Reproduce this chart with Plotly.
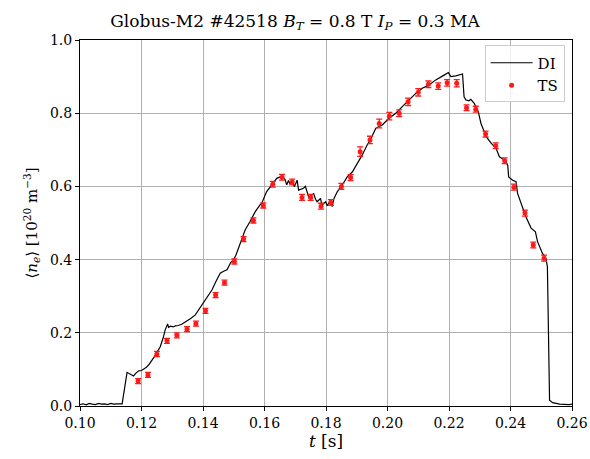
import plotly.graph_objects as go

# Interferometer (DI) line-averaged density trace
di_t = [0.1000, 0.1010, 0.1020, 0.1030, 0.1040, 0.1050, 0.1060, 0.1070, 0.1080, 0.1090,
        0.1100, 0.1110, 0.1120, 0.1130, 0.1137, 0.1153, 0.1160, 0.1167, 0.1174, 0.1182,
        0.1191, 0.1200, 0.1207, 0.1215, 0.1223, 0.1232, 0.1242, 0.1251, 0.1261, 0.1270,
        0.1277, 0.1285, 0.1288, 0.1295, 0.1303, 0.1310, 0.1320, 0.1332, 0.1340, 0.1348,
        0.1360, 0.1375, 0.1388, 0.1402, 0.1415, 0.1429, 0.1442, 0.1456, 0.1467, 0.1478,
        0.1490, 0.1499, 0.1507, 0.1521, 0.1537, 0.1553, 0.1570, 0.1586, 0.1591, 0.1607,
        0.1624, 0.1640, 0.1656, 0.1667, 0.1672, 0.1678, 0.1683, 0.1691, 0.1697, 0.1706,
        0.1711, 0.1727, 0.1733, 0.1738, 0.1744, 0.1755, 0.1760, 0.1766, 0.1771, 0.1782,
        0.1787, 0.1799, 0.1804, 0.1815, 0.1820, 0.1826, 0.1837, 0.1853, 0.1869, 0.1886,
        0.1902, 0.1918, 0.1935, 0.1945, 0.1962, 0.1983, 0.2005, 0.2027, 0.2048, 0.2070,
        0.2092, 0.2113, 0.2135, 0.2157, 0.2173, 0.2184, 0.2198, 0.2206, 0.2222, 0.2233,
        0.2244, 0.2249, 0.2255, 0.2265, 0.2271, 0.2282, 0.2295, 0.2304, 0.2321, 0.2337,
        0.2353, 0.2364, 0.2380, 0.2391, 0.2394, 0.2407, 0.2418, 0.2423, 0.2434, 0.2450,
        0.2467, 0.2481, 0.2488, 0.2504, 0.2515, 0.2520, 0.2527, 0.2537, 0.2560, 0.2570,
        0.2580, 0.2590, 0.2600]
di_ne = [0.004, 0.006, 0.003, 0.007, 0.005, 0.004, 0.007, 0.005, 0.006, 0.004,
         0.007, 0.005, 0.006, 0.005, 0.006, 0.092, 0.089, 0.087, 0.082, 0.090,
         0.096, 0.097, 0.100, 0.105, 0.112, 0.122, 0.135, 0.148, 0.162, 0.185,
         0.208, 0.224, 0.215, 0.218, 0.216, 0.219, 0.220, 0.224, 0.228, 0.232,
         0.239, 0.249, 0.265, 0.282, 0.298, 0.317, 0.340, 0.363, 0.368, 0.372,
         0.392, 0.399, 0.412, 0.445, 0.481, 0.504, 0.531, 0.550, 0.554, 0.586,
         0.604, 0.622, 0.628, 0.619, 0.604, 0.616, 0.607, 0.613, 0.599, 0.617,
         0.590, 0.595, 0.600, 0.583, 0.570, 0.577, 0.580, 0.565, 0.558, 0.567,
         0.549, 0.558, 0.547, 0.563, 0.545, 0.567, 0.586, 0.604, 0.626, 0.640,
         0.663, 0.686, 0.715, 0.728, 0.759, 0.768, 0.786, 0.800, 0.818, 0.836,
         0.854, 0.868, 0.877, 0.891, 0.900, 0.904, 0.911, 0.900, 0.902, 0.904,
         0.907, 0.845, 0.836, 0.834, 0.838, 0.827, 0.805, 0.772, 0.736, 0.718,
         0.704, 0.681, 0.672, 0.658, 0.626, 0.617, 0.613, 0.581, 0.554, 0.517,
         0.486, 0.476, 0.449, 0.417, 0.404, 0.381, 0.016, 0.009, 0.005, 0.004,
         0.005, 0.004, 0.005]

# Thomson scattering (TS) volume-averaged density with error bars
ts_t = [0.1189, 0.1221, 0.1250, 0.1283, 0.1315, 0.1348, 0.1377, 0.1408, 0.1441, 0.1470,
        0.1502, 0.1532, 0.1564, 0.1596, 0.1627, 0.1657, 0.1690, 0.1722, 0.1750, 0.1784,
        0.1816, 0.1850, 0.1880, 0.1911, 0.1943, 0.1973, 0.2006, 0.2038, 0.2067, 0.2100,
        0.2133, 0.2165, 0.2194, 0.2225, 0.2257, 0.2287, 0.2319, 0.2352, 0.2381, 0.2411,
        0.2447, 0.2474, 0.2509]
ts_ne = [0.068, 0.085, 0.142, 0.178, 0.193, 0.210, 0.225, 0.260, 0.303, 0.337,
         0.395, 0.456, 0.507, 0.548, 0.606, 0.625, 0.612, 0.570, 0.570, 0.546,
         0.556, 0.600, 0.624, 0.695, 0.727, 0.772, 0.792, 0.800, 0.831, 0.857,
         0.879, 0.874, 0.883, 0.882, 0.815, 0.811, 0.743, 0.711, 0.670, 0.598,
         0.527, 0.440, 0.404]
ts_err = [0.007, 0.007, 0.007, 0.007, 0.007, 0.007, 0.007, 0.007, 0.007, 0.007,
          0.007, 0.007, 0.007, 0.007, 0.008, 0.008, 0.008, 0.008, 0.008, 0.008,
          0.008, 0.008, 0.008, 0.013, 0.010, 0.012, 0.010, 0.009, 0.010, 0.010,
          0.009, 0.009, 0.009, 0.010, 0.008, 0.008, 0.008, 0.008, 0.008, 0.008,
          0.008, 0.008, 0.008]

x_ticks = [0.10, 0.12, 0.14, 0.16, 0.18, 0.20, 0.22, 0.24, 0.26]
y_ticks = [0.0, 0.2, 0.4, 0.6, 0.8, 1.0]

FONT = "DejaVu Serif"

fig = go.Figure()
fig.add_trace(go.Scatter(
    x=di_t, y=di_ne, mode="lines", name="DI",
    line=dict(color="black", width=1.2),
))
fig.add_trace(go.Scatter(
    x=ts_t, y=ts_ne, mode="markers", name="TS",
    marker=dict(color="#ff1a1a", size=5),
    error_y=dict(type="data", array=ts_err, color="#ff1a1a", thickness=1.3, width=3),
))

axis_common = dict(
    showline=True, linecolor="black", linewidth=1, mirror=True,
    ticks="outside", ticklen=4, tickcolor="black",
    showgrid=True, gridcolor="#b0b0b0", gridwidth=1,
    zeroline=False, automargin=False,
    tickfont=dict(family=FONT, size=14, color="black"),
)

fig.update_layout(
    width=590, height=459,
    margin=dict(l=80, r=18, t=40, b=53),
    paper_bgcolor="white", plot_bgcolor="white",
    font=dict(family=FONT, size=14, color="black"),
    title=dict(
        text="Globus-M2 #42518 <i>B</i><sub><i>T</i></sub> = 0.8 T <i>I</i><sub><i>P</i></sub> = 0.3 MA",
        x=0.5, xanchor="center", y=0.955, yanchor="middle",
        font=dict(family=FONT, size=17),
    ),
    xaxis=dict(
        range=[0.10, 0.26], tickvals=x_ticks,
        ticktext=[f"{v:.2f}" for v in x_ticks],
        title=dict(text="<i>t</i> [s]", font=dict(family=FONT, size=17), standoff=4),
        **axis_common,
    ),
    yaxis=dict(
        range=[0.0, 1.0], tickvals=y_ticks,
        ticktext=[f"{v:.1f}" for v in y_ticks],
        title=dict(text="⟨<i>n</i><sub><i>e</i></sub>⟩ [10<sup>20</sup> m<sup>−3</sup>]",
                   font=dict(family=FONT, size=15), standoff=8),
        **axis_common,
    ),
    legend=dict(
        x=0.985, y=0.985, xanchor="right", yanchor="top",
        bgcolor="rgba(255,255,255,0.8)", bordercolor="#cccccc", borderwidth=1,
        font=dict(family=FONT, size=15),
        itemwidth=42, tracegroupgap=2,
    ),
    showlegend=True,
)

fig.write_html("out.html")
